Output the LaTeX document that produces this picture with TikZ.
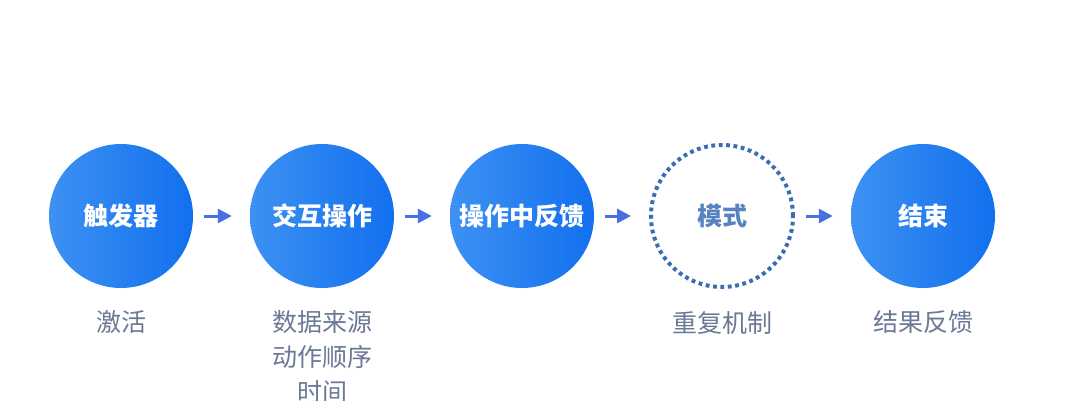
\documentclass[tikz,border=0pt]{standalone}
\usepackage{fontspec}
\setmainfont{Noto Sans CJK SC}
\usetikzlibrary{positioning}
\usetikzlibrary{arrows.meta}

\definecolor{blueL}{HTML}{3D91F2}
\definecolor{blueR}{HTML}{1270EF}
\definecolor{arrowblue}{HTML}{4A6FE0}
\definecolor{dotblue}{HTML}{3A6DB5}
\definecolor{labelgray}{HTML}{6B7896}

\begin{document}
\begin{tikzpicture} [x = 1pt, y = 1pt,
    stepnode/.style = {circle, minimum size = 144pt, inner sep = 0pt,
        left color = blueL, right color = blueR, draw = none,
        text = white, font = \fontsize{25}{30}\selectfont\bfseries},
    loopnode/.style = {circle, minimum size = 142pt, inner sep = 0pt,
        draw = dotblue, line width = 4pt, dash pattern = on 3.8pt off 3.6pt,
        text = dotblue!85!white, font = \fontsize{25}{30}\selectfont\bfseries},
    note/.style = {align = center, inner sep = 0pt, text = labelgray,
        font = \fontsize{25}{35}\selectfont},
    flow/.style = {arrowblue, line width = 3pt,
        -{Triangle[length = 14pt, width = 14pt]},
        shorten < = 11pt, shorten > = 18pt}]

\useasboundingbox (0,0) rectangle (1074,400);

% steps
\node (trig) [stepnode] at (121, 184) {触发器};
\node (inter) [stepnode] at (322, 184) {交互操作};
\node (fb) [stepnode] at (522, 184) {操作中反馈};
\node (mode) [loopnode] at (722, 184) {模式};
\node (done) [stepnode] at (923, 184) {结束};

% arrows
\draw [flow] (trig) -- (inter);
\draw [flow] (inter) -- (fb);
\draw [flow] (fb) -- (mode);
\draw [flow] (mode) -- (done);

% notes
\node (trignote) [note, below = 22pt of trig] {激活};
\node (internote) [note, below = 22pt of inter] {数据来源\\动作顺序\\时间};
\node (modenote) [note, below = 22pt of mode] {重复机制};
\node (donenote) [note, below = 22pt of done] {结果反馈};

\end{tikzpicture}
\end{document}
